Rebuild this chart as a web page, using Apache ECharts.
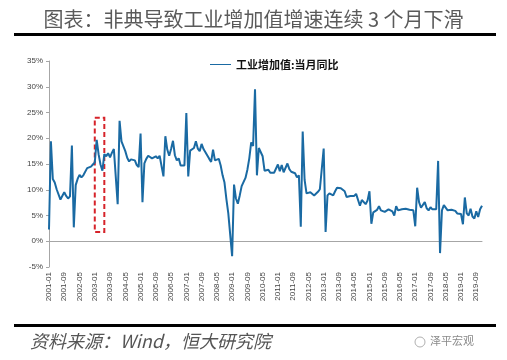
<!DOCTYPE html>
<html>
<head>
<meta charset="utf-8">
<script src="https://cdn.jsdelivr.net/npm/echarts@6/dist/echarts.min.js"></script>
<style>
html,body{margin:0;padding:0;background:#fff;}
#c{width:507px;height:360px;}
</style>
</head>
<body>
<div id="c"></div>
<script>
// Industrial value added, monthly YoY (%), 2001-01 .. 2019-12
var y2001 = [2.3, 19.4, 12.1, 11.4, 10.1, 10.2, 8.1, 8.1, 9.5, 8.8, 8.3, 8.7];
var y2002 = [18.6, 2.7, 10.9, 12.1, 12.9, 12.4, 12.8, 12.7, 14.2, 14.2, 14.5, 14.9];
var y2003 = [15.3, 19.7, 16.9, 14.9, 13.7, 16.9, 16.5, 17.1, 16.3, 17.2, 17.9, 18.1];
var y2004 = [7.2, 23.4, 19.4, 19.1, 17.5, 16.2, 15.5, 15.9, 16.1, 15.7, 14.8, 14.4];
var y2005 = [20.9, 7.6, 15.1, 16.0, 16.6, 16.8, 16.1, 16.0, 16.5, 16.1, 16.6, 16.5];
var y2006 = [12.6, 20.4, 17.8, 16.6, 17.9, 19.5, 16.7, 15.7, 16.1, 14.7, 14.9, 14.7];
var y2007 = [24.9, 12.6, 17.6, 17.4, 18.1, 19.4, 18.0, 17.5, 18.9, 17.9, 17.3, 17.4];
var y2008 = [16.0, 15.4, 17.8, 15.7, 16.0, 16.0, 14.7, 12.8, 11.4, 8.2, 5.4, 5.7];
var y2009 = [-2.9, 11.0, 8.3, 7.3, 8.9, 10.7, 10.8, 12.3, 13.9, 16.1, 19.2, 18.5];
var y2010 = [29.5, 12.8, 18.1, 17.8, 16.5, 13.7, 13.4, 13.9, 13.3, 13.1, 13.3, 13.5];
var y2011 = [14.9, 13.6, 14.8, 13.4, 13.3, 15.1, 14.0, 13.5, 13.8, 13.2, 12.4, 12.8];
var y2012 = [2.8, 21.3, 11.9, 9.3, 9.6, 9.5, 9.2, 8.9, 9.2, 9.6, 10.1, 10.3];
var y2013 = [18.0, 1.8, 8.9, 9.3, 9.2, 8.9, 9.7, 10.4, 10.2, 10.3, 10.0, 9.7];
var y2014 = [8.6, 8.6, 8.8, 8.7, 8.8, 9.2, 9.0, 6.9, 8.0, 7.7, 7.2, 7.9];
var y2015 = [9.7, 3.4, 5.6, 5.9, 6.1, 6.8, 6.0, 6.1, 5.7, 5.6, 6.2, 5.9];
var y2016 = [5.8, 5.0, 6.8, 6.0, 6.0, 6.2, 6.0, 6.3, 6.1, 6.1, 6.2, 6.0];
var y2017 = [2.9, 10.4, 7.6, 6.5, 6.5, 7.6, 6.4, 6.0, 6.6, 6.2, 6.1, 6.2];
var y2018 = [15.6, -2.3, 6.0, 7.0, 6.8, 6.0, 6.0, 6.1, 5.8, 5.9, 5.4, 5.7];
var y2019 = [5.3, 3.3, 8.5, 5.4, 5.0, 6.3, 4.8, 4.4, 5.8, 4.7, 6.2, 6.9];

var years = [2001,2002,2003,2004,2005,2006,2007,2008,2009,2010,2011,2012,2013,2014,2015,2016,2017,2018,2019];
var yearData = [y2001,y2002,y2003,y2004,y2005,y2006,y2007,y2008,y2009,y2010,y2011,y2012,y2013,y2014,y2015,y2016,y2017,y2018,y2019];

// Annotated period (SARS)
var boxStart = '2003-01', boxEnd = '2003-06';
var boxTop = 24, boxBottom = 1.8;

var seriesName = '工业增加值:当月同比';
var yTicks = {min: -5, max: 35, interval: 5};

var categories = [];
var values = [];
years.forEach(function (yr, k) {
  yearData[k].forEach(function (v, m) {
    categories.push(yr + '-' + (m < 9 ? '0' : '') + (m + 1));
    values.push(v);
  });
});

var chart = echarts.init(document.getElementById('c'), null, {renderer: 'canvas'});
chart.setOption({
  backgroundColor: '#ffffff',
  animation: false,
  title: {
    text: '图表：非典导致工业增加值增速连续 3 个月下滑',
    left: 'center',
    top: 4,
    textStyle: {fontFamily: 'Noto Sans CJK SC', fontSize: 20, fontWeight: 'normal', color: '#5a5a5a'}
  },
  legend: {
    top: 54,
    left: 205,
    itemWidth: 21,
    itemHeight: 10,
    itemGap: 5,
    icon: 'path://M0,4.5 L21,4.5 L21,5.5 L0,5.5 Z',
    textStyle: {fontFamily: 'Noto Sans CJK SC', fontSize: 11, fontWeight: 'bold', color: '#111'},
    data: [seriesName]
  },
  grid: {left: 49, right: 25, top: 61, bottom: 93},
  xAxis: {
    type: 'category',
    data: categories,
    boundaryGap: false,
    axisLine: {lineStyle: {color: '#a6a6a6', width: 1}},
    axisTick: {show: false},
    axisLabel: {
      interval: 7,
      rotate: 90,
      fontFamily: 'Liberation Sans',
      fontSize: 8,
      color: '#444',
      margin: 5
    },
    splitLine: {show: false}
  },
  yAxis: {
    type: 'value',
    min: yTicks.min,
    max: yTicks.max,
    interval: yTicks.interval,
    axisLine: {show: true, lineStyle: {color: '#a6a6a6', width: 1}},
    axisTick: {show: true, length: 3, lineStyle: {color: '#a6a6a6'}},
    axisLabel: {formatter: '{value}%', fontFamily: 'Liberation Sans', fontSize: 8, color: '#444', margin: 6},
    splitLine: {show: false}
  },
  series: [{
    name: seriesName,
    type: 'line',
    data: values,
    showSymbol: false,
    symbol: 'none',
    lineStyle: {color: '#1a6aa3', width: 2},
    itemStyle: {color: '#1a6aa3'},
    markArea: {
      silent: true,
      itemStyle: {color: 'rgba(0,0,0,0)', borderColor: '#d6232a', borderWidth: 2, borderType: [5, 3]},
      data: [[{coord: [boxStart, boxTop]}, {coord: [boxEnd, boxBottom]}]]
    }
  }],
  graphic: [
    {type: 'rect', shape: {x: 14, y: 33, width: 482, height: 3}, style: {fill: '#000'}},
    {type: 'rect', shape: {x: 14, y: 324, width: 482, height: 3}, style: {fill: '#000'}},
    {type: 'text', left: 30, top: 332, style: {text: '资料来源：Wind，恒大研究院', fontFamily: 'Noto Sans CJK SC', fontSize: 18, fontStyle: 'italic', fill: '#555'}},
    {type: 'text', left: 430, top: 335, style: {text: '泽平宏观', fontFamily: 'Noto Sans CJK SC', fontSize: 11, fill: '#8a8a8a'}},
    {type: 'circle', shape: {cx: 420, cy: 342, r: 5}, style: {fill: 'none', stroke: '#b0b0b0', lineWidth: 1}}
  ]
});
</script>
</body>
</html>
